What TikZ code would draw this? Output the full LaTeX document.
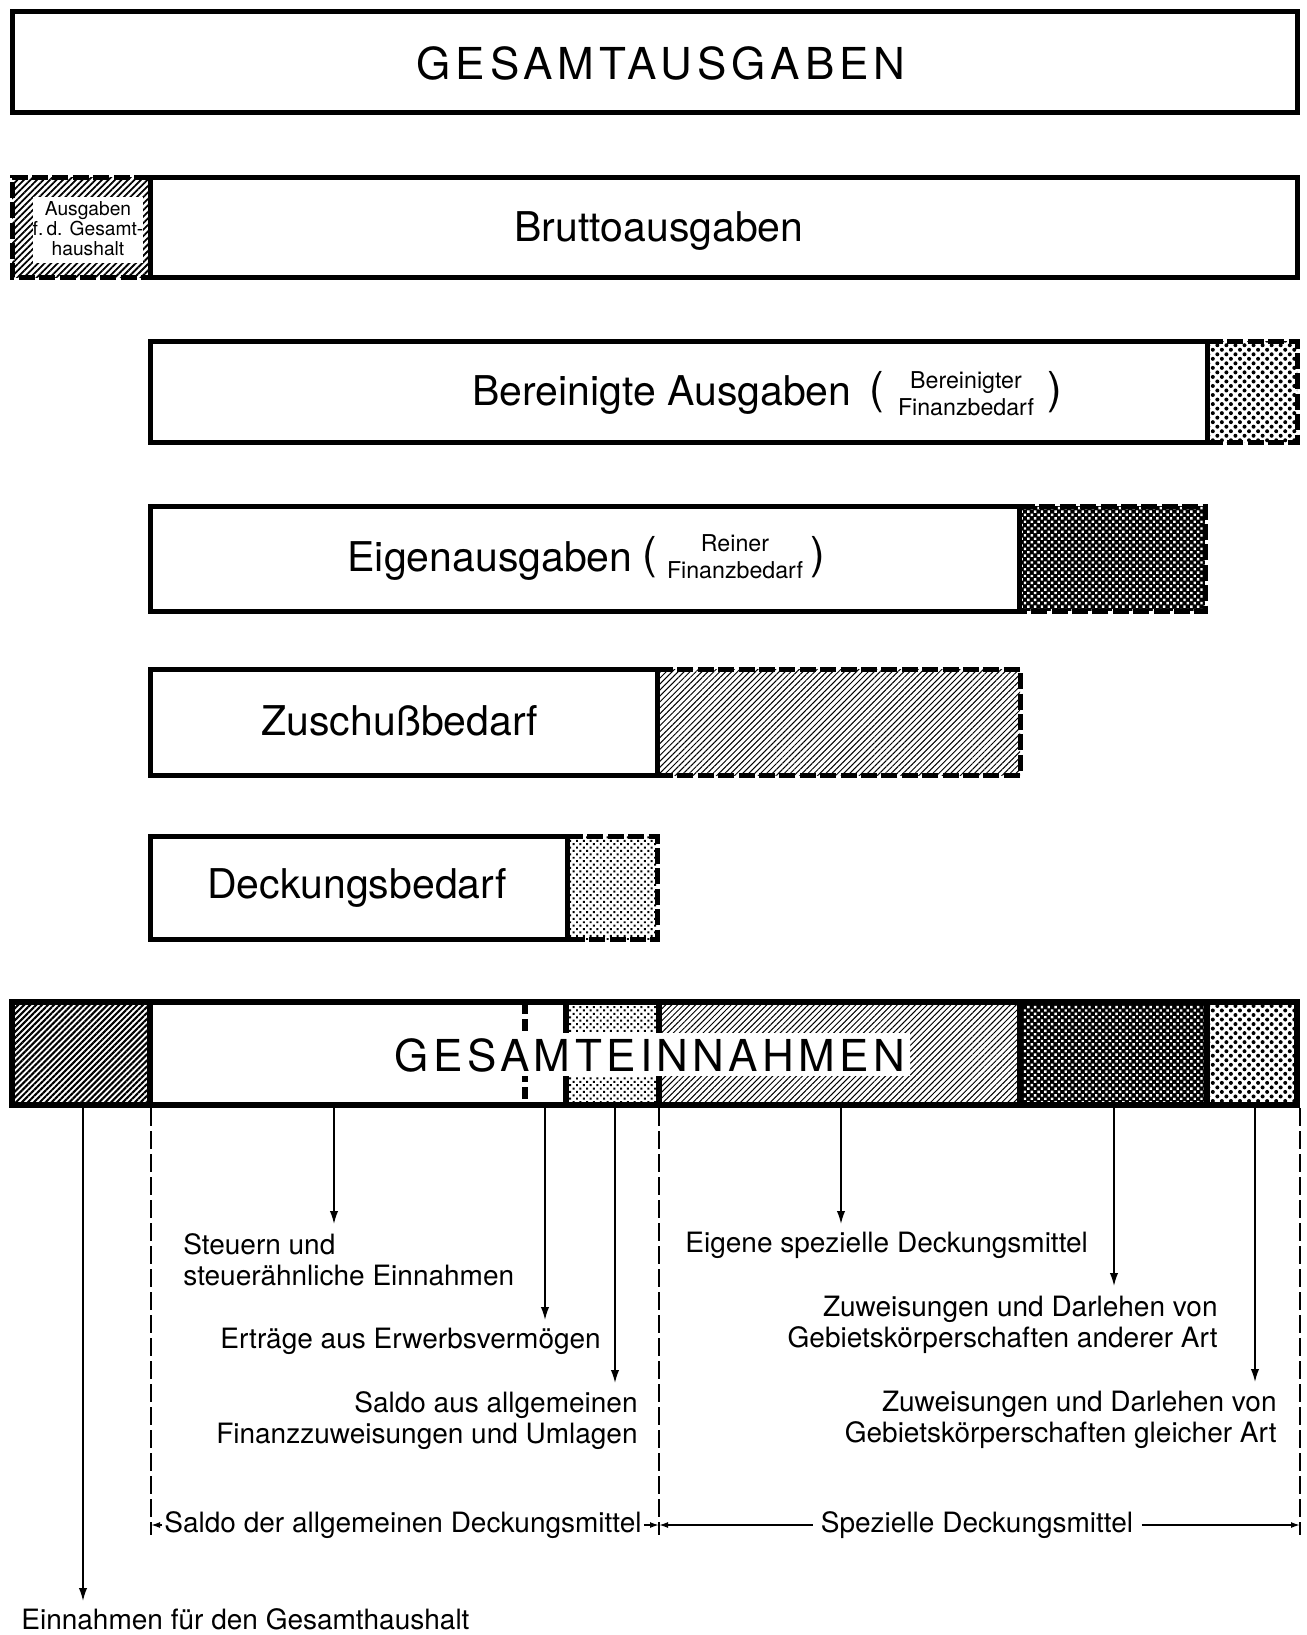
\documentclass[tikz,border=0pt]{standalone}
\usepackage{fontspec}
\setmainfont{TeX Gyre Heros}
\newfontfamily\spacedfont[LetterSpace=10]{TeX Gyre Heros}
\newfontfamily\widefont[LetterSpace=11.5]{TeX Gyre Heros}
\usetikzlibrary{patterns.meta,arrows.meta}
\newcommand{\fsTitle}{\spacedfont\fontsize{22}{26}\selectfont}
\newcommand{\fsTitleW}{\widefont\fontsize{22}{26}\selectfont}
\newcommand{\fsMain}{\fontsize{20.5}{24}\selectfont}
\newcommand{\fsParen}{\fontsize{22}{26}\selectfont}
\newcommand{\fsSub}{\fontsize{11.6}{13.5}\selectfont}
\newcommand{\fsTiny}{\fontsize{9.6}{10}\selectfont}
\newcommand{\fsLbl}{\fontsize{14}{15.5}\selectfont}
\begin{document}
\begin{tikzpicture}[x=0.5pt,y=-0.5pt,
  box/.style={draw=black,line width=2.5pt},
  extborder/.style={draw=black,line width=2.5pt,dash pattern=on 8pt off 2.2pt},
  sep/.style={draw=black,line width=3pt},
  hatchA/.style={pattern={Lines[angle=45,distance=2.1pt,line width=0.5pt]},pattern color=black},
  hatchB/.style={pattern={Lines[angle=45,distance=2.1pt,line width=1.05pt]},pattern color=black},
  hatchC/.style={pattern={Lines[angle=45,distance=2.3pt,line width=0.9pt]},pattern color=black},
  dotsA/.style={pattern={Dots[radius=1.0pt,distance=3.2pt,angle=45]},pattern color=black},
  dotsB/.style={pattern={Dots[radius=0.7pt,distance=2.4pt,angle=45]},pattern color=black},
  dotsW/.style={pattern={Dots[radius=0.85pt,distance=2.4pt,angle=45]},pattern color=white},
  mainlbl/.style={font=\fsMain,inner sep=0pt,anchor=base},
  paren/.style={font=\fsParen,inner sep=0pt,anchor=center},
  sublbl/.style={font=\fsSub,inner sep=0pt,align=center,anchor=center},
  lbl/.style={font=\fsLbl,inner sep=0pt},
  arr/.style={draw=black,line width=0.8pt,-{Latex[length=6.5pt,width=4.2pt]}},
  guide/.style={draw=black,line width=0.8pt,dash pattern=on 9pt off 2.5pt},
  dimarr/.style={draw=black,line width=0.8pt,-{Latex[length=4.5pt,width=3pt]}},
  dimlbl/.style={font=\fsLbl,text height=7.3pt,text depth=0pt,anchor=center}
]
\useasboundingbox (0,0) rectangle (1307,1635);
\fill[white] (0,0) rectangle (1307,1635);

% GESAMTAUSGABEN
\draw[box] (12,11) rectangle (1297,112);
\node[font=\fsTitleW,inner sep=0pt,anchor=base] (gesaus) at (661,79) {GESAMTAUSGABEN};

% Bruttoausgaben
\fill[hatchC] (12,177) rectangle (150,277);
\fill[white] (33,197) rectangle (143,263);
\draw[extborder] (150,177) -- (12,177) -- (12,277) -- (150,277);
\draw[box] (150,177) rectangle (1297,277);
\node[font=\fsTiny,inner sep=0pt,align=center,anchor=center] (ausgges) at (88,229) {Ausgaben\\f.\,d. Gesamt-\\haushalt};
\node[mainlbl] (brutto) at (659,241) {Bruttoausgaben};

% Bereinigte Ausgaben
\fill[dotsA] (1207,341) rectangle (1297,442);
\draw[extborder] (1207,341) -- (1297,341) -- (1297,442) -- (1207,442);
\draw[box] (150,341) rectangle (1207,442);
\node[mainlbl] (bereinigt) at (662,405) {Bereinigte Ausgaben};
\node[paren] (bparl) at (877,392) {(};
\node[sublbl] (bsub) at (966,394) {Bereinigter\\Finanzbedarf};
\node[paren] (bparr) at (1055,392) {)};

% Eigenausgaben
\fill[black] (1019,506) rectangle (1205,611);
\fill[dotsW] (1019,506) rectangle (1205,611);
\draw[extborder] (1019,506) -- (1205,506) -- (1205,611) -- (1019,611);
\draw[box] (150,506) rectangle (1019,611);
\node[mainlbl] (eigen) at (490,571) {Eigenausgaben};
\node[paren] (eparl) at (650,557) {(};
\node[sublbl] (esub) at (735,557) {Reiner\\Finanzbedarf};
\node[paren] (eparr) at (818,557) {)};

% Zuschussbedarf
\fill[hatchA] (657,669) rectangle (1020,775);
\draw[extborder] (657,669) -- (1020,669) -- (1020,775) -- (657,775);
\draw[box] (150,669) rectangle (657,775);
\node[mainlbl] (zuschuss) at (400,735) {Zuschußbedarf};

% Deckungsbedarf
\fill[dotsB] (567,836) rectangle (657,939);
\draw[extborder] (567,836) -- (657,836) -- (657,939) -- (567,939);
\draw[box] (150,836) rectangle (567,939);
\node[mainlbl] (deckung) at (357,898) {Deckungsbedarf};

% GESAMTEINNAHMEN bar
\fill[hatchB] (12,1002) rectangle (150,1105);
\fill[dotsB] (566,1002) rectangle (659,1105);
\fill[hatchA] (659,1002) rectangle (1020,1105);
\fill[black] (1020,1002) rectangle (1207,1105);
\fill[dotsW] (1020,1002) rectangle (1207,1105);
\fill[dotsA] (1207,1002) rectangle (1297,1105);
\draw[sep] (150,1002) -- (150,1105);
\draw[sep] (566,1002) -- (566,1105);
\draw[sep] (659,1002) -- (659,1105);
\draw[sep] (1020,1002) -- (1020,1105);
\draw[sep] (1207,1002) -- (1207,1105);
\draw[line width=3pt,dash pattern=on 6pt off 2.5pt] (525,1002) -- (525,1105);
\fill[white] (388,1033) rectangle (910,1076);
\draw[line width=3pt] (12,1002) rectangle (1297,1105);
\node[font=\fsTitle,inner sep=0pt,anchor=base] (geseinn) at (650,1071) {GESAMTEINNAHMEN};

% connector coordinates
\coordinate (s83) at (83,1108);   \coordinate (t83) at (83,1601);
\coordinate (s334) at (334,1108); \coordinate (t334) at (334,1224);
\coordinate (s545) at (545,1108); \coordinate (t545) at (545,1320);
\coordinate (s615) at (615,1108); \coordinate (t615) at (615,1383);
\coordinate (s841) at (841,1108); \coordinate (t841) at (841,1224);
\coordinate (s1114) at (1114,1108); \coordinate (t1114) at (1114,1286);
\coordinate (s1255) at (1255,1108); \coordinate (t1255) at (1255,1382);
\coordinate (g151a) at (151,1108); \coordinate (g151b) at (151,1535);
\coordinate (g659a) at (659,1108); \coordinate (g659b) at (659,1535);
\coordinate (g1300a) at (1300,1108); \coordinate (g1300b) at (1300,1535);
\coordinate (dimL) at (151,1525);
\coordinate (dimM) at (659,1525);
\coordinate (dimR) at (1300,1525);

\draw[arr] (s83) -- (t83);
\draw[arr] (s334) -- (t334);
\draw[arr] (s545) -- (t545);
\draw[arr] (s615) -- (t615);
\draw[arr] (s841) -- (t841);
\draw[arr] (s1114) -- (t1114);
\draw[arr] (s1255) -- (t1255);
\draw[guide] (g151a) -- (g151b);
\draw[guide] (g659a) -- (g659b);
\draw[guide] (g1300a) -- (g1300b);

% labels
\node[lbl,align=left,anchor=north west] (steuern) at (183,1233) {Steuern und\\steuerähnliche Einnahmen};
\node[lbl,anchor=base west] (ertraege) at (220,1348) {Erträge aus Erwerbsvermögen};
\node[lbl,align=right,anchor=north east] (saldoallg) at (638,1391) {Saldo aus allgemeinen\\Finanzzuweisungen und Umlagen};
\node[lbl,anchor=base west] (eigspez) at (685,1252) {Eigene spezielle Deckungsmittel};
\node[lbl,align=right,anchor=north east] (zuwand) at (1218,1296) {Zuweisungen und Darlehen von\\Gebietskörperschaften anderer Art};
\node[lbl,align=right,anchor=north east] (zuwgl) at (1277,1391) {Zuweisungen und Darlehen von\\Gebietskörperschaften gleicher Art};
\node[lbl,anchor=base west] (einges) at (21,1629) {Einnahmen für den Gesamthaushalt};

% dimension lines
\node[dimlbl,inner sep=1pt] (saldo) at (403,1525) {Saldo der allgemeinen Deckungsmittel};
\node[dimlbl,inner sep=4pt] (spez) at (977,1525) {Spezielle Deckungsmittel};
\draw[dimarr] (saldo.west) -- (dimL);
\draw[dimarr] (saldo.east) -- (dimM);
\draw[dimarr] (spez.west) -- (dimM);
\draw[dimarr] (spez.east) -- (dimR);
\end{tikzpicture}
\end{document}
